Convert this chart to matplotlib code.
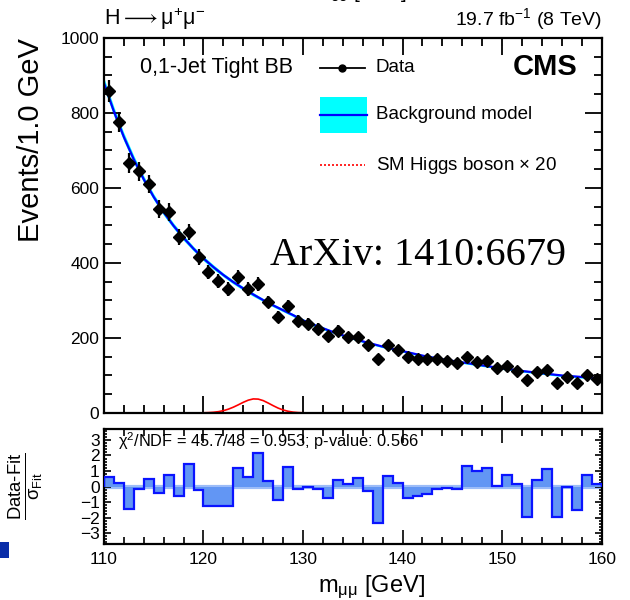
import matplotlib
matplotlib.use("Agg")
import matplotlib.pyplot as plt
import numpy as np
from matplotlib.ticker import MultipleLocator
from matplotlib.patches import Rectangle

plt.rcParams['font.family'] = ['Liberation Sans', 'DejaVu Sans']
plt.rcParams['mathtext.fontset'] = 'custom'
plt.rcParams['mathtext.rm'] = 'Liberation Sans'
plt.rcParams['mathtext.it'] = 'Liberation Sans:italic'
plt.rcParams['mathtext.bf'] = 'Liberation Sans:bold'
plt.rcParams['mathtext.default'] = 'regular'

# dimuon mass bins, 1 GeV wide
bin_edges = np.arange(110, 161, 1.0)
bin_centers = bin_edges[:-1] + 0.5

events = [859, 776, 667, 645, 611, 544, 536, 469, 483, 416,
          376, 352, 331, 363, 331, 344, 296, 256, 285, 245,
          237, 224, 205, 219, 203, 203, 181, 144, 181, 168,
          149, 144, 144, 144, 139, 133, 149, 136, 139, 120,
          125, 112, 88, 109, 115, 80, 96, 80, 101, 91]

# background fit, sampled every GeV
fit_mass = np.arange(110, 161, 1.0)
fit_vals = [880, 804, 736, 676, 623, 576, 535, 499, 467, 438,
            412, 389, 368, 349, 332, 316, 301, 287, 274, 261,
            247, 236, 226, 216, 207, 199, 191, 184, 177, 171,
            165, 159, 153, 148, 143, 139, 135, 131, 127, 123,
            119, 116, 112, 109, 106, 103, 100, 98, 96, 94, 92]
fit_err = [14, 12, 11, 10, 9, 8, 8, 7, 7, 6,
           6, 6, 5, 5, 5, 5, 4, 4, 4, 4,
           4, 4, 4, 3, 3, 3, 3, 3, 3, 3,
           3, 3, 3, 3, 3, 3, 3, 3, 3, 3,
           3, 3, 3, 3, 3, 3, 3, 3, 3, 3, 3]

# SM Higgs signal (x20)
sig_mass = np.arange(120, 130.5, 0.5)
sig_vals = [0.5, 1.0, 1.9, 3.5, 6.2, 10.2, 15.5, 21.8, 28.5, 34.2, 37.5,
            37.0, 33.0, 26.5, 19.5, 13.0, 8.0, 4.5, 2.3, 1.1, 0.5]

# (data - fit) / sigma per bin
pulls = [0.63, 0.24, -1.44, -0.13, 0.50, -0.40, 0.77, -0.62, 1.42, -0.24,
         -1.23, -1.23, -1.27, 1.20, 0.63, 2.17, 0.34, -0.90, 1.25, -0.19,
         -0.04, -0.15, -0.77, 0.45, 0.17, 0.56, -0.26, -2.34, 0.66, 0.24,
         -0.73, -0.58, -0.47, -0.13, -0.09, -0.19, 1.31, 0.99, 1.20, 0.02,
         0.77, 0.13, -1.96, 0.45, 1.10, -1.96, -0.04, -1.48, 0.73, 0.17]

fig = plt.figure(figsize=(6.3, 6.0), dpi=100)
ax1 = fig.add_axes([0.165, 0.3117, 0.790, 0.625])
ax2 = fig.add_axes([0.165, 0.0933, 0.790, 0.1917])

# --- upper panel ---
fit_lo = np.array(fit_vals) - np.array(fit_err)
fit_hi = np.array(fit_vals) + np.array(fit_err)
ax1.fill_between(fit_mass, fit_lo, fit_hi, color='#00ffff', lw=0, zorder=1)
ax1.plot(fit_mass, fit_vals, color='#0000ff', lw=1.6, zorder=2)
ax1.plot(sig_mass, sig_vals, color='#ff0000', lw=1.2, zorder=2)
ax1.errorbar(bin_centers, events, yerr=np.sqrt(events), fmt='D', color='black',
             ms=6, elinewidth=1.6, capsize=0, zorder=3)

ax1.set_xlim(110, 160)
ax1.set_ylim(0, 1000)
ax1.xaxis.set_major_locator(MultipleLocator(10))
ax1.xaxis.set_minor_locator(MultipleLocator(2))
ax1.yaxis.set_major_locator(MultipleLocator(200))
ax1.yaxis.set_minor_locator(MultipleLocator(50))
ax1.tick_params(which='both', direction='in', top=True, right=True, labelbottom=False,
                labelsize=12.5, width=1.3)
ax1.tick_params(which='major', length=12)
ax1.tick_params(which='minor', length=6)
ax1.set_ylabel('Events/1.0 GeV', fontsize=21, loc='top')
ax1.yaxis.set_label_coords(-0.118, 1.0)
for s in ax1.spines.values():
    s.set_linewidth(1.6)

# legend drawn by hand
ax1.text(0.072, 0.92, '0,1-Jet Tight BB', transform=ax1.transAxes, fontsize=15.5, va='center')
ax1.plot([0.434, 0.524], [0.92, 0.92], transform=ax1.transAxes, color='black', lw=1.3)
ax1.plot([0.479], [0.92], transform=ax1.transAxes, marker='o', color='black', ms=5)
ax1.text(0.546, 0.92, 'Data', transform=ax1.transAxes, fontsize=13.5, va='center')
ax1.add_patch(Rectangle((0.434, 0.747), 0.094, 0.096, transform=ax1.transAxes,
                        color='#00ffff', lw=0))
ax1.plot([0.434, 0.528], [0.795, 0.795], transform=ax1.transAxes, color='#0000ff', lw=1.6)
ax1.text(0.546, 0.795, 'Background model', transform=ax1.transAxes, fontsize=13.5, va='center')
ax1.plot([0.434, 0.524], [0.661, 0.661], transform=ax1.transAxes, color='#ff0000',
         lw=1.2, ls=(0, (1.2, 1.2)))
ax1.text(0.546, 0.661, 'SM Higgs boson $\\times$ 20', transform=ax1.transAxes,
         fontsize=13.5, va='center')
ax1.text(0.952, 0.923, 'CMS', transform=ax1.transAxes, fontsize=21, weight='bold',
         ha='right', va='center')
ax1.text(0.333, 0.421, 'ArXiv: 1410:6679', transform=ax1.transAxes, fontsize=29,
         family='Liberation Serif', va='center')

# headers above the frame
fig.text(0.165, 0.968, 'H$\\longrightarrow\\mu^{+}\\mu^{-}$', fontsize=15.5, va='center')
fig.text(0.955, 0.968, '19.7 fb$^{-1}$ (8 TeV)', fontsize=14, va='center', ha='right')
fig.text(0.497, 1.012, 'm$_{ee}$ [GeV]', fontsize=15, va='center')

# --- pull panel ---
ax2.axhline(0, color='#9cbcf8', lw=3, zorder=1)
ax2.stairs(pulls, bin_edges, baseline=0, fill=True, color='#6296f4', lw=0, zorder=2)
ax2.stairs(pulls, bin_edges, baseline=0, color='#0a14ff', lw=1.6, zorder=3)
ax2.set_xlim(110, 160)
ax2.set_ylim(-3.7, 3.7)
ax2.xaxis.set_major_locator(MultipleLocator(10))
ax2.xaxis.set_minor_locator(MultipleLocator(2))
ax2.yaxis.set_major_locator(MultipleLocator(1))
ax2.yaxis.set_minor_locator(MultipleLocator(0.2))
ax2.tick_params(which='both', direction='in', top=True, right=True, labelsize=12.5, width=1.2)
ax2.tick_params(axis='x', which='major', length=10)
ax2.tick_params(axis='x', which='minor', length=5)
ax2.tick_params(axis='y', which='major', length=5, pad=3)
ax2.tick_params(axis='y', which='minor', length=2.5)
ax2.tick_params(axis='x', pad=6)
for s in ax2.spines.values():
    s.set_linewidth(1.6)
ax2.set_xlabel('m$_{\\mu\\mu}$ [GeV]', fontsize=17)
ax2.xaxis.set_label_coords(0.538, -0.26)
ax2.set_ylabel('$\\frac{\\text{Data-Fit}}{\\sigma_{\\text{Fit}}}$', fontsize=19)
ax2.yaxis.set_label_coords(-0.118, 0.5)
ax2.text(0.028, 0.895, '$\\chi^{2}$/NDF = 45.7/48 = 0.953; p-value: 0.566',
         transform=ax2.transAxes, fontsize=11.8, va='center')

# small marker block at the left margin
fig.add_artist(Rectangle((0.0, 0.07), 0.015, 0.027, transform=fig.transFigure,
                         color='#0a2da8', lw=0))

fig.savefig('out.png', dpi=100)
